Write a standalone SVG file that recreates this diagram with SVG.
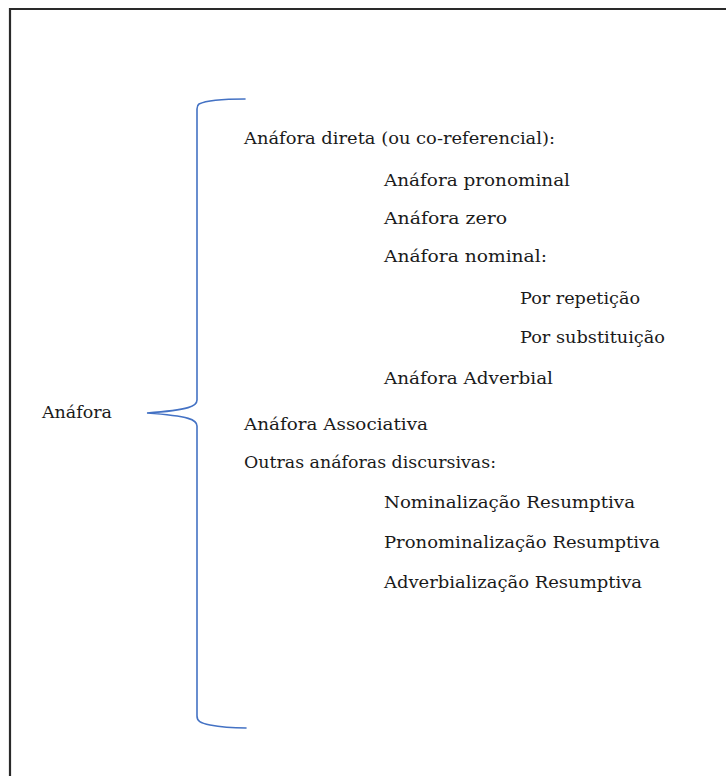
<svg xmlns="http://www.w3.org/2000/svg" width="726" height="776" viewBox="0 0 726 776">
<style>
.t{font-family:"DejaVu Serif","Liberation Serif",serif;font-size:17px;fill:#1a1a1a}
.br{fill:none;stroke:#4472C4;stroke-width:1.6;stroke-linecap:round}
</style>
<rect width="726" height="776" fill="#fff"/>
<path d="M10 776 V9 H726" fill="none" stroke="#2a2a2a" stroke-width="2.2"/>
<g id="connectors">
<path class="br" d="M245 99 C222 99 205 101 199 104 C197.5 105 197 106 197 109 V400 C197 406 190 410 147 413 C190 416 197 420 197 426 V716 C197 721 200 723 210 725 C220 727 232 728 246 728"/>
</g>
<g id="n-anafora"><text class="t" x="42" y="418" textLength="70" lengthAdjust="spacingAndGlyphs">Anáfora</text></g>
<g id="n-direta"><text class="t" x="244" y="144" textLength="311" lengthAdjust="spacingAndGlyphs">Anáfora direta (ou co-referencial):</text></g>
<g id="n-pronominal"><text class="t" x="384" y="186" textLength="186" lengthAdjust="spacingAndGlyphs">Anáfora pronominal</text></g>
<g id="n-zero"><text class="t" x="384" y="224" textLength="123" lengthAdjust="spacingAndGlyphs">Anáfora zero</text></g>
<g id="n-nominal"><text class="t" x="384" y="262" textLength="163" lengthAdjust="spacingAndGlyphs">Anáfora nominal:</text></g>
<g id="n-repeticao"><text class="t" x="520" y="304" textLength="120" lengthAdjust="spacingAndGlyphs">Por repetição</text></g>
<g id="n-substituicao"><text class="t" x="520" y="343" textLength="145" lengthAdjust="spacingAndGlyphs">Por substituição</text></g>
<g id="n-adverbial"><text class="t" x="384" y="384" textLength="169" lengthAdjust="spacingAndGlyphs">Anáfora Adverbial</text></g>
<g id="n-associativa"><text class="t" x="244" y="430" textLength="184" lengthAdjust="spacingAndGlyphs">Anáfora Associativa</text></g>
<g id="n-outras"><text class="t" x="244" y="468" textLength="252" lengthAdjust="spacingAndGlyphs">Outras anáforas discursivas:</text></g>
<g id="n-nominalizacao"><text class="t" x="384" y="508" textLength="251" lengthAdjust="spacingAndGlyphs">Nominalização Resumptiva</text></g>
<g id="n-pronominalizacao"><text class="t" x="384" y="548" textLength="276" lengthAdjust="spacingAndGlyphs">Pronominalização Resumptiva</text></g>
<g id="n-adverbializacao"><text class="t" x="384" y="588" textLength="258" lengthAdjust="spacingAndGlyphs">Adverbialização Resumptiva</text></g>
</svg>
